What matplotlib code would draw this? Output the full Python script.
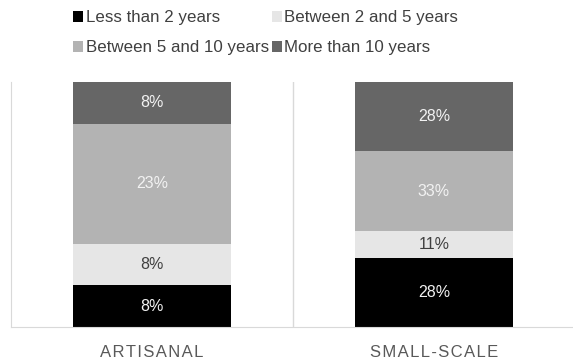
import matplotlib.pyplot as plt
import numpy as np

plt.rcParams['font.family'] = ['Liberation Sans', 'DejaVu Sans']

categories = ["ARTISANAL", "SMALL-SCALE"]
series = ["Less than 2 years", "Between 2 and 5 years",
          "Between 5 and 10 years", "More than 10 years"]
# labelled percentages per category, bottom to top
values = {
    "Less than 2 years": [8, 28],
    "Between 2 and 5 years": [8, 11],
    "Between 5 and 10 years": [23, 33],
    "More than 10 years": [8, 28],
}
colors = ["#000000", "#e6e6e6", "#b3b3b3", "#666666"]
text_colors = ["#f2f2f2", "#404040", "#f2f2f2", "#f2f2f2"]

fig = plt.figure(figsize=(5.73, 3.61), dpi=100)
ax = fig.add_axes([11 / 573, 1 - 327 / 361, 564 / 573, 245 / 361])

x = np.arange(len(categories))
totals = np.sum([values[s] for s in series], axis=0)
bottom = np.zeros(len(categories))
handles = []
for s, c, tc in zip(series, colors, text_colors):
    raw = np.array(values[s], dtype=float)
    h = raw / totals * 100
    b = ax.bar(x, h, 0.56, bottom=bottom, color=c, label=s)
    handles.append(b)
    for xi, bi, hi, r in zip(x, bottom, h, raw):
        ax.text(xi, bi + hi / 2, f"{int(r)}%", ha="center", va="center",
                color=tc, fontsize=11.5)
    bottom += h

ax.set_xlim(-0.5, 1.5)
ax.set_ylim(0, 100)
ax.set_yticks([])
ax.set_xticks(x)
ax.set_xticklabels(["\u200a".join(c) for c in categories], fontsize=12, color="#595959")
ax.tick_params(axis="x", length=0, pad=13)
ax.axvline(0.5, color="#d9d9d9", lw=1)
for side in ["top", "right"]:
    ax.spines[side].set_visible(False)
for side in ["left", "bottom"]:
    ax.spines[side].set_color("#d9d9d9")

# row-major legend order like the original
order = [0, 2, 1, 3]
fig.legend(handles=[handles[i] for i in order], labels=[series[i] for i in order],
           ncol=2, loc="upper left",
           bbox_to_anchor=(63 / 573, 1.0), frameon=False, fontsize=12.2,
           handlelength=0.6, handleheight=0.6, handletextpad=0.15,
           columnspacing=0.15, labelspacing=0.9, labelcolor="#404040",
           borderaxespad=0.2)

plt.savefig("out.png", dpi=100)
